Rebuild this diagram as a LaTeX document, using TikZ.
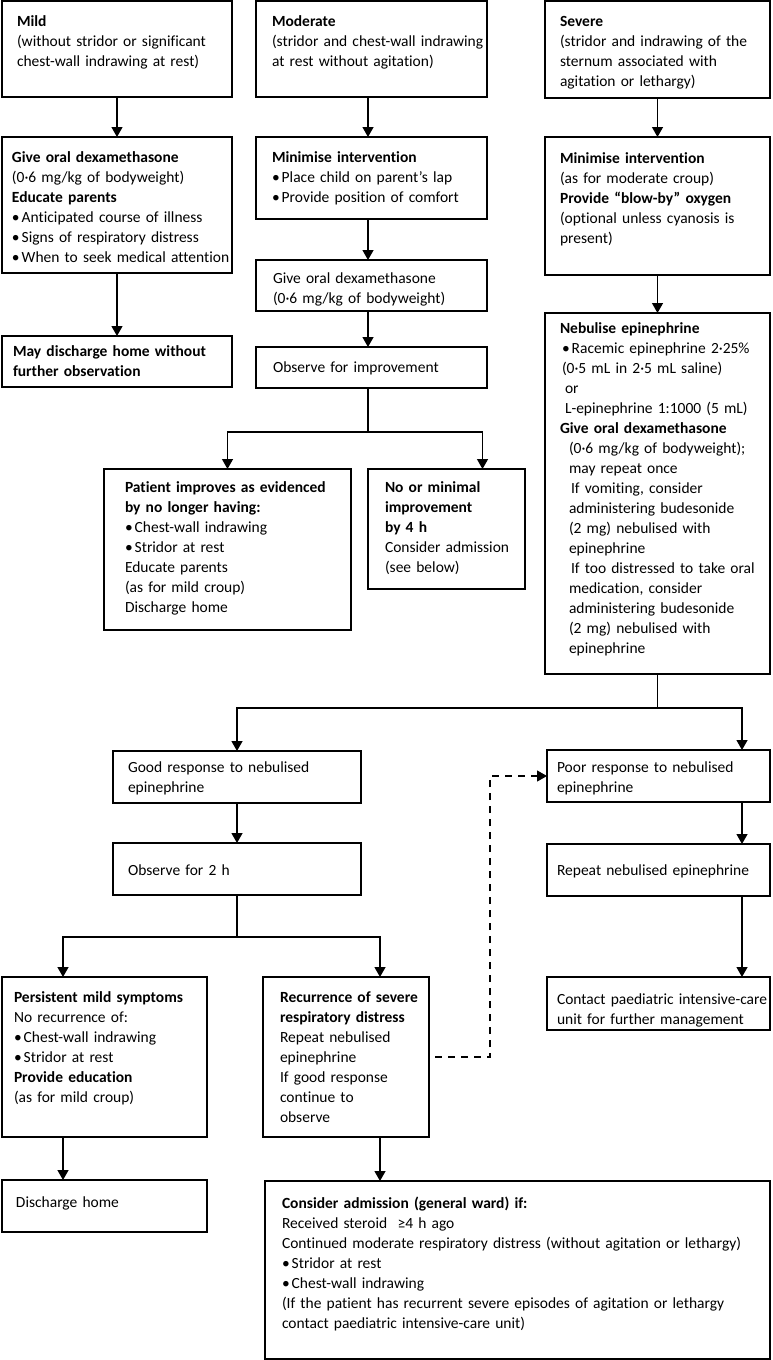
\documentclass[tikz,border=0pt]{standalone}
\usepackage{fontspec}
\setmainfont{Carlito}[Ligatures=NoCommon]
\usetikzlibrary{arrows.meta}

\newcommand{\bul}{•\hspace{2pt}}

\tikzset{
  box/.style={draw, line width=1.6pt, anchor=north west, align=left, outer sep=0pt,
    inner ysep=0pt, inner xsep=13pt, font=\fontsize{15.5}{20}\selectfont,
    execute at begin node={\rightskip=0pt plus 1fil minus 300pt\hyphenpenalty=10000\exhyphenpenalty=10000}},
  arr/.style={line width=1.3pt, -{Triangle[width=11pt,length=10pt]}},
  link/.style={line width=1.3pt},
  dasharr/.style={line width=1.2pt, dash pattern=on 7pt off 6pt, -{Triangle[width=11pt,length=10pt]}},
}

\begin{document}
\begin{tikzpicture}[x=1pt,y=-1pt,line join=miter]
\useasboundingbox (0,0) rectangle (772,1360);

% columns of the vertical connectors
\coordinate (mc) at (368,0);
\coordinate (rc) at (742,0);
\coordinate (lc) at (63,0);
\coordinate (cc) at (380,0);
\coordinate (dc) at (490,0);

% mild
\node[box, inner xsep=15pt, text width=200pt, text height=25pt, text depth=71pt] (mild) at (2,1)
  {\textbf{Mild}\\(without stridor or significant\\chest-wall indrawing at rest)};
\node[box, inner xsep=10pt, text width=210pt, text height=25pt, text depth=111pt] (mildDex) at (2,137)
  {\textbf{Give oral dexamethasone}\\(0·6 mg/kg of bodyweight)\\\textbf{Educate parents}\\
   \bul Anticipated course of illness\\\bul Signs of respiratory distress\\\bul When to seek medical attention};
\node[box, inner xsep=11pt, text width=208pt, text height=20pt, text depth=31pt] (mildHome) at (2,336)
  {\textbf{May discharge home without}\\\textbf{further observation}};

% moderate
\node[box, inner xsep=16pt, text width=199pt, text height=25pt, text depth=71pt] (mod) at (256,1)
  {\textbf{Moderate}\\(stridor and chest-wall indrawing\\at rest without agitation)};
\node[box, inner xsep=16pt, text width=199pt, text height=25pt, text depth=57pt] (modMin) at (256,137)
  {\textbf{Minimise intervention}\\\bul Place child on parent’s lap\\\bul Provide position of comfort};
\node[box, inner xsep=17pt, text width=197pt, text height=23pt, text depth=28pt] (modDex) at (256,260)
  {Give oral dexamethasone\\(0·6 mg/kg of bodyweight)};
\node[box, inner xsep=17pt, text width=197pt, text height=25pt, text depth=16pt] (modObs) at (256,347)
  {Observe for improvement};
\node[box, inner xsep=21pt, text width=205pt, text height=23pt, text depth=138pt] (improve) at (104,469)
  {\textbf{Patient improves as evidenced}\\\textbf{by no longer having:}\\\bul Chest-wall indrawing\\\bul Stridor at rest\\
   Educate parents\\(as for mild croup)\\Discharge home};
\node[box, inner xsep=17pt, text width=123pt, text height=23pt, text depth=97pt] (noImp) at (368,469)
  {\textbf{No or minimal}\\\textbf{improvement}\\\textbf{by 4 h}\\Consider admission\\(see below)};

% severe
\node[box, inner xsep=15pt, text width=195pt, text height=25pt, text depth=72pt] (sev) at (545,1)
  {\textbf{Severe}\\(stridor and indrawing of the\\sternum associated with\\agitation or lethargy)};
\node[box, inner xsep=15pt, text width=195pt, text height=26pt, text depth=112pt] (sevMin) at (545,137)
  {\textbf{Minimise intervention}\\(as for moderate croup)\\\textbf{Provide “blow-by” oxygen}\\
   (optional unless cyanosis is\\present)};
\node[box, inner xsep=15pt, text width=195pt, text height=20pt, text depth=341pt] (neb) at (545,313)
  {\textbf{Nebulise epinephrine}\\
   \hspace*{2pt}\bul Racemic epinephrine 2·25\%\\
   \hspace*{2pt}(0·5 mL in 2·5 mL saline)\\
   \hspace*{5pt}or\\
   \hspace*{5pt}L-epinephrine 1:1000 (5 mL)\\
   \textbf{Give oral dexamethasone}\\
   \hspace*{9pt}(0·6 mg/kg of bodyweight);\\
   \hspace*{9pt}may repeat once\\
   \hspace*{11pt}If vomiting, consider\\
   \hspace*{9pt}administering budesonide\\
   \hspace*{9pt}(2 mg) nebulised with\\
   \hspace*{9pt}epinephrine\\
   \hspace*{11pt}If too distressed to take oral\\
   \hspace*{9pt}medication, consider\\
   \hspace*{9pt}administering budesonide\\
   \hspace*{9pt}(2 mg) nebulised with\\
   \hspace*{9pt}epinephrine};

% response to epinephrine
\node[box, inner xsep=15pt, text width=218pt, text height=21pt, text depth=31pt] (good) at (113,751)
  {Good response to nebulised\\epinephrine};
\node[box, inner xsep=15pt, text width=218pt, text height=32pt, text depth=20pt] (obs2) at (113,843)
  {Observe for 2 h};
\node[box, inner xsep=10pt, text width=203pt, text height=22pt, text depth=30pt] (poor) at (547,750)
  {Poor response to nebulised\\epinephrine};
\node[box, inner xsep=10pt, text width=203pt, text height=31pt, text depth=21pt] (repeat) at (547,844)
  {Repeat nebulised epinephrine};
\node[box, inner xsep=10pt, text width=203pt, text height=27pt, text depth=26pt] (pic) at (547,977)
  {Contact paediatric intensive-care\\unit for further management};
\node[box, inner xsep=12pt, text width=181pt, text height=25pt, text depth=135pt] (persist) at (2,977)
  {\textbf{Persistent mild symptoms}\\No recurrence of:\\\bul Chest-wall indrawing\\\bul Stridor at rest\\
   \textbf{Provide education}\\(as for mild croup)};
\node[box, inner xsep=17pt, text width=132pt, text height=25pt, text depth=135pt] (recur) at (263,977)
  {\textbf{Recurrence of severe}\\\textbf{respiratory distress}\\Repeat nebulised\\epinephrine\\
   If good response\\continue to\\observe};
\node[box, inner xsep=14pt, text width=177pt, text height=27pt, text depth=25pt] (home) at (2,1180)
  {Discharge home};
\node[box, inner xsep=17pt, text width=471pt, text height=27pt, text depth=151pt] (admit) at (265,1181)
  {\textbf{Consider admission (general ward) if:}\\Received steroid \ ≥4 h ago\\
   Continued moderate respiratory distress (without agitation or lethargy)\\
   \bul Stridor at rest\\\bul Chest-wall indrawing\\
   (If the patient has recurrent severe episodes of agitation or lethargy\\
   contact paediatric intensive-care unit)};

% connectors
\draw[arr] (mild.south) -- (mildDex.north);
\draw[arr] (mildDex.south) -- (mildHome.north);
\draw[arr] (mod.south -| mc) -- (modMin.north -| mc);
\draw[arr] (modMin.south -| mc) -- (modDex.north -| mc);
\draw[arr] (modDex.south -| mc) -- (modObs.north -| mc);
\draw[link] (modObs.south -| mc) -- ++(0,44) coordinate (split1);
\draw[arr] (split1) -| (improve.north);
\draw[arr] (split1) -| ([xshift=36pt]noImp.north);
\draw[arr] (sev.south) -- (sevMin.north);
\draw[arr] (sevMin.south) -- (neb.north);
\draw[link] (neb.south) -- ++(0,34) coordinate (split2);
\draw[arr] (split2) -| (good.north);
\draw[arr] (split2) -| (poor.north -| rc);
\draw[arr] (good.south) -- (obs2.north);
\draw[arr] (poor.south -| rc) -- (repeat.north -| rc);
\draw[arr] (repeat.south -| rc) -- (pic.north -| rc);
\draw[link] (obs2.south) -- ++(0,42) coordinate (split3);
\draw[arr] (split3) -| (persist.north -| lc);
\draw[arr] (split3) -| (recur.north -| cc);
\draw[arr] (persist.south -| lc) -- (home.north -| lc);
\draw[arr] (recur.south -| cc) -- (admit.north -| cc);
\draw[dasharr] ([xshift=6pt]recur.east) -| (poor.west -| dc) -- (poor.west);
\end{tikzpicture}
\end{document}
